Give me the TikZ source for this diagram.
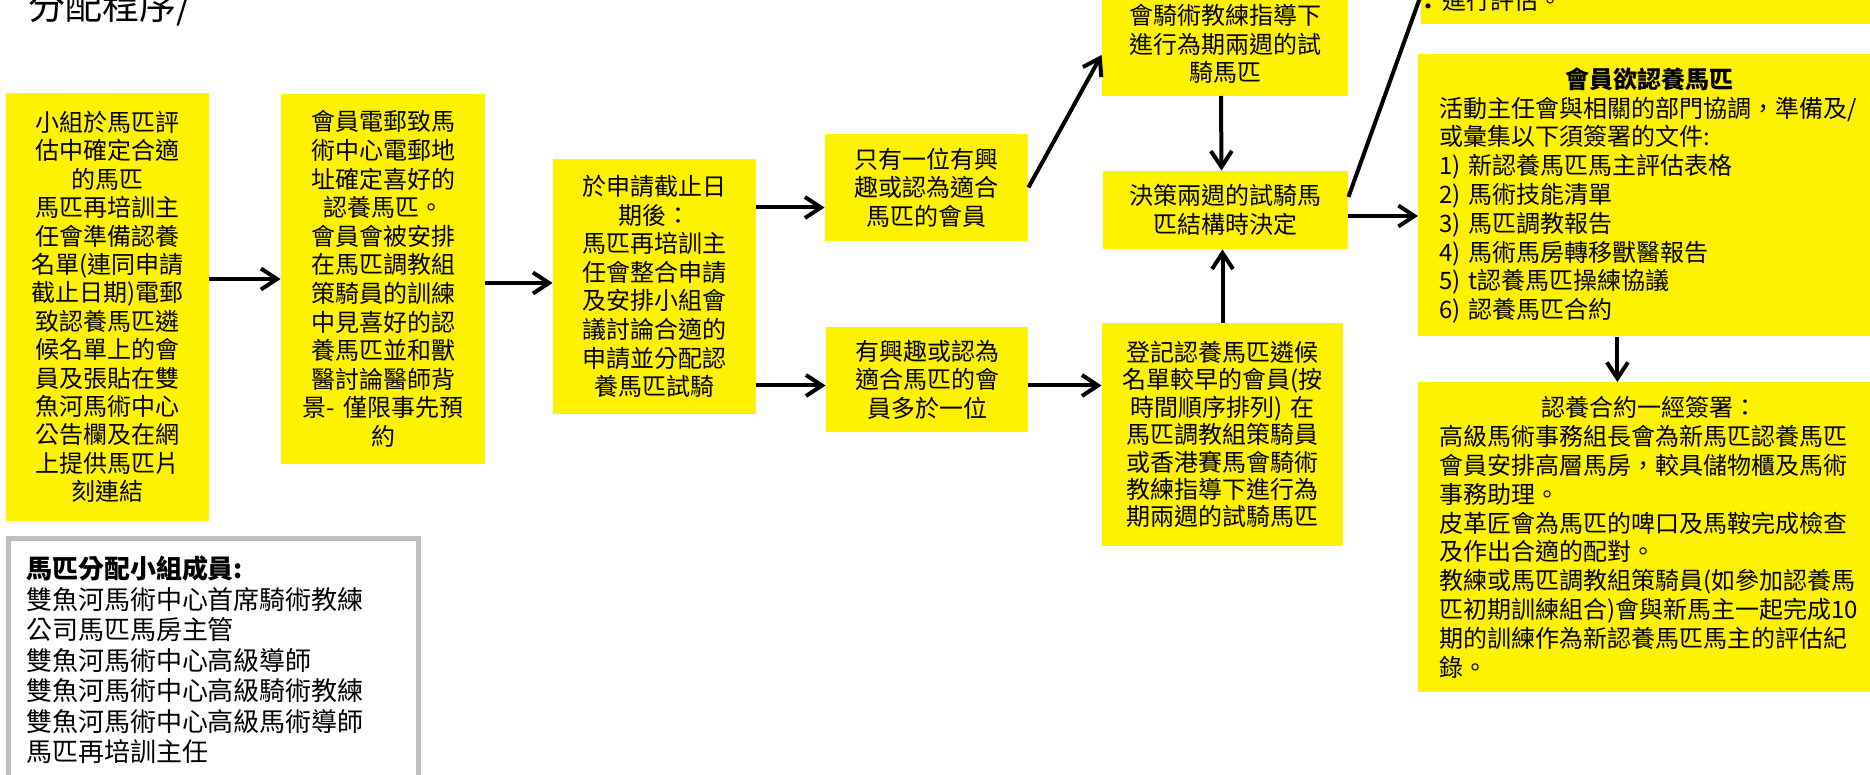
\documentclass[tikz,border=0pt]{standalone}
\usepackage{fontspec}
\setmainfont{Noto Sans CJK TC}
\usetikzlibrary{positioning, arrows.meta}
\definecolor{framegray}{HTML}{BFBFBF}
\setlength{\lineskiplimit}{-100pt}
\tikzset{
  stepbox/.style={fill=yellow, align=center, inner xsep=0pt, inner ysep=0pt,
    font=\fontsize{12pt}{14.3pt}\selectfont},
  notebox/.style={fill=yellow, align=left, inner xsep=10.5pt, inner ysep=0pt,
    text width=210pt, font=\fontsize{12pt}{14.4pt}\selectfont},
  flow/.style={line width=2pt, -{Straight Barb[length=8pt,width=10.5pt]}},
  link/.style={line width=2pt},
}
\begin{document}
\begin{tikzpicture}[x=0.5pt, y=-0.5pt]
        \useasboundingbox (0,0) rectangle (1870,775);

        \node[anchor=base west, font=\fontsize{18.5pt}{21pt}\selectfont] (title) at (21,20) {分配程序/};

        \node[stepbox, text width=101.5pt, minimum height=214pt,
          font=\fontsize{12pt}{14.2pt}\selectfont] (b1) at (107.5,307)
          {小組於馬匹評\\估中確定合適\\的馬匹\\馬匹再培訓主\\任會準備認養\\名單(連同申請\\截止日期)電郵\\致認養馬匹遴\\候名單上的會\\員及張貼在雙\\魚河馬術中心\\公告欄及在網\\上提供馬匹片\\刻連結};
        \node[stepbox, text width=102pt, minimum height=185pt] (b2) at (383,279)
          {會員電郵致馬\\術中心電郵地\\址確定喜好的\\認養馬匹。\\會員會被安排\\在馬匹調教組\\策騎員的訓練\\中見喜好的認\\養馬匹並和獸\\醫討論醫師背\\景- 僅限事先預\\約};
        \node[stepbox, text width=101.5pt, minimum height=127.5pt] (b3) at (654.5,286.5)
          {於申請截止日\\期後：\\馬匹再培訓主\\任會整合申請\\及安排小組會\\議討論合適的\\申請並分配認\\養馬匹試騎};
        \node[stepbox, text width=101.5pt, minimum height=53.5pt] (b4) at (926.5,187.5)
          {只有一位有興\\趣或認為適合\\馬匹的會員};
        \node[stepbox, text width=101pt, minimum height=52.5pt] (b5) at (927,379.5)
          {有興趣或認為\\適合馬匹的會\\員多於一位};
        \node[stepbox, text width=123pt, inner ysep=6pt, anchor=south] (b6) at (1225,96)
          {會騎術教練指導下\\進行為期兩週的試\\騎馬匹};
        \node[stepbox, text width=122.5pt, minimum height=39pt] (b7) at (1225.5,210)
          {決策兩週的試騎馬\\匹結構時決定};
        \node[stepbox, text width=120.5pt, minimum height=111.5pt,
          font=\fontsize{12pt}{13.7pt}\selectfont] (b8) at (1222.5,434.5)
          {登記認養馬匹遴候\\名單較早的會員(按\\時間順序排列) 在\\馬匹調教組策騎員\\或香港賽馬會騎術\\教練指導下進行為\\期兩週的試騎馬匹};

        \node[notebox, inner xsep=2pt, inner ysep=6pt, text width=223pt, anchor=south west] (b9) at (1421,24)
          {\makebox[8.5pt][l]{\hspace{-4.5pt}\smash{\raisebox{-3pt}{•}}}進行評估。};
        \node[notebox, minimum height=141pt, anchor=north west] (b10) at (1418,54)
          {\makebox[210pt][c]{\textbf{會員欲認養馬匹}}\\
           活動主任會與相關的部門協調，準備及/\\或彙集以下須簽署的文件:\\1) 新認養馬匹馬主評估表格\\2) 馬術技能清單\\3) 馬匹調教報告\\4) 馬術馬房轉移獸醫報告\\5) t認養馬匹操練協議\\6) 認養馬匹合約};
        \node[notebox, minimum height=155pt, anchor=north west] (b11) at (1418,382)
          {\makebox[210pt][c]{認養合約一經簽署：}\\
           高級馬術事務組長會為新馬匹認養馬匹\\會員安排高層馬房，較具儲物櫃及馬術\\事務助理。\\皮革匠會為馬匹的啤口及馬鞍完成檢查\\及作出合適的配對。\\教練或馬匹調教組策騎員(如參加認養馬\\匹初期訓練組合)會與新馬主一起完成10\\期的訓練作為新認養馬匹馬主的評估紀\\錄。};

        \node[draw=framegray, line width=2.5pt, fill=white, align=left, anchor=north west,
          text width=187pt, inner xsep=9pt, inner ysep=9pt,
          font=\fontsize{13pt}{15.25pt}\selectfont] (team) at (5.5,535.5)
          {\textbf{馬匹分配小組成員:}\\雙魚河馬術中心首席騎術教練\\公司馬匹馬房主管\\雙魚河馬術中心高級導師\\雙魚河馬術中心高級騎術教練\\雙魚河馬術中心高級馬術導師\\馬匹再培訓主任};

        \draw[flow] (b1.east |- b2.west) -- (b2.west);
        \draw[flow] ([yshift=-2pt]b2.east) -- ([yshift=-2pt]b2.east -| b3.west);
        \draw[flow] ([yshift=-10pt]b4.west -| b3.east) -- ([yshift=-10pt]b4.west);
        \draw[flow] ([yshift=-3pt]b5.west -| b3.east) -- ([yshift=-3pt]b5.west);
        \draw[flow] ([yshift=-3pt]b5.east) -- ([yshift=-3pt]b5.east -| b8.west);
        \draw[flow] (b4.east) -- ([yshift=-5.5pt]b6.west);
        \draw[flow] ([xshift=-2pt]b6.south) -- ([xshift=-2pt]b7.north);
        \draw[flow] (b8.north) -- (b8.north |- b7.south);
        \draw[link] ([yshift=6.5pt]b7.east) -- ([yshift=14.5pt]b9.south west);
        \draw[flow] ([yshift=-3pt]b7.east) -- ([yshift=-3pt]b7.east -| b10.west);
        \draw[flow] ([xshift=-16pt]b10.south) -- ([xshift=-16pt]b10.south |- b11.north);
\end{tikzpicture}
\end{document}
